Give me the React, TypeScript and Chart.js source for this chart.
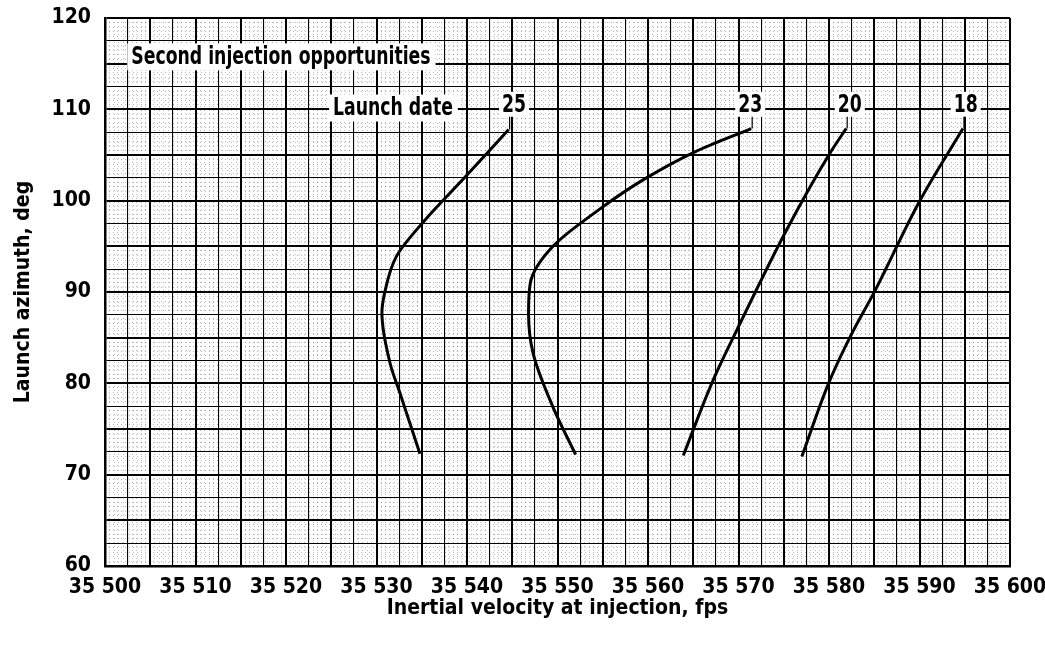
import React, { useEffect, useRef } from "react";
import { Chart, registerables } from "chart.js";

Chart.register(...registerables);

// ---- Data ----
const x25 = [35534.8, 35532.6, 35531.5, 35530.6, 35530.9, 35532.2, 35535.2, 35540.0, 35544.6];
const y25 = [72.3, 78.9, 82.2, 87.7, 89.9, 93.9, 97.7, 102.8, 107.8];

const x23 = [35552.0, 35549.5, 35547.3, 35546.8, 35547.0, 35549.5, 35554.7, 35559.5, 35565.3, 35571.4];
const y23 = [72.2, 77.4, 83.3, 87.7, 91.0, 95.0, 99.1, 102.3, 105.4, 107.9];

const x20 = [35563.9, 35567.2, 35569.8, 35575.5, 35580.1, 35581.9];
const y20 = [72.1, 80.35, 85.8, 97.15, 105.2, 107.9];

const x18 = [35577.0, 35580.1, 35582.7, 35584.9, 35590.1, 35594.8];
const y18 = [72.0, 80.35, 85.8, 89.8, 100.1, 107.9];

const seriesNames = ["25", "23", "20", "18"];
const seriesX = [x25, x23, x20, x18];
const seriesY = [y25, y23, y20, y18];

// Launch-date labels (data coordinates)
const dateLabelX = [35545.2, 35571.3, 35582.3, 35595.1];
const dateLabelY = [110.5, 110.5, 110.5, 110.5];

// Other text annotations (left edge, centre line)
const noteTexts = ["Second injection opportunities", "Launch date"];
const noteX = [35502.9, 35525.2];
const noteY = [115.8, 110.2];

const xMin = 35500;
const xMax = 35600;
const yMin = 60;
const yMax = 120;
const xTickLabels = ["35 500", "35 510", "35 520", "35 530", "35 540", "35 550", "35 560", "35 570", "35 580", "35 590", "35 600"];
const yTickLabels = ["60", "70", "80", "90", "100", "110", "120"];

const xTitle = "Inertial velocity at injection, fps";
const yTitle = "Launch azimuth, deg";

const FONT = "'DejaVu Sans Condensed', 'DejaVu Sans', sans-serif";
const SQUEEZE = 0.8;

const labelPlugin = {
  id: "textLabels",
  afterDatasetsDraw(chart: any) {
    const { ctx, scales } = chart;
    const xs = scales.x;
    const ys = scales.y;
    ctx.save();
    ctx.font = `bold 24px ${FONT}`;
    ctx.textBaseline = "middle";
    ctx.textAlign = "left";
    noteTexts.forEach((t, i) => {
      const px = xs.getPixelForValue(noteX[i]);
      const py = ys.getPixelForValue(noteY[i]);
      const w = ctx.measureText(t).width * SQUEEZE;
      ctx.fillStyle = "#fff";
      ctx.fillRect(px - 4, py - 13, w + 9, 27);
      ctx.save();
      ctx.translate(px, py + 1);
      ctx.scale(SQUEEZE, 1);
      ctx.fillStyle = "#000";
      ctx.fillText(t, 0, 0);
      ctx.restore();
    });
    seriesNames.forEach((t, i) => {
      const px = xs.getPixelForValue(dateLabelX[i]);
      const py = ys.getPixelForValue(dateLabelY[i]);
      const w = ctx.measureText(t).width * SQUEEZE;
      const sx = seriesX[i];
      const sy = seriesY[i];
      const ex = xs.getPixelForValue(sx[sx.length - 1]);
      const ey = ys.getPixelForValue(sy[sy.length - 1]);
      ctx.fillStyle = "#fff";
      ctx.fillRect(px - w / 2 - 3, py - 13, w + 6, 25);
      ctx.strokeStyle = "#000";
      ctx.lineWidth = 1.2;
      ctx.beginPath();
      ctx.moveTo(ex + 1, py + 12);
      ctx.lineTo(ex + 1, ey);
      ctx.stroke();
      ctx.save();
      ctx.translate(px - w / 2, py + 1);
      ctx.scale(SQUEEZE, 1);
      ctx.fillStyle = "#000";
      ctx.fillText(t, 0, 0);
      ctx.restore();
    });
    ctx.restore();
  },
};

const zeroPad = (s: any) => {
  s.paddingTop = 0;
  s.paddingBottom = 0;
  s.paddingLeft = 0;
  s.paddingRight = 0;
};

export default function App() {
  const ref = useRef<HTMLCanvasElement | null>(null);

  useEffect(() => {
    if (!ref.current) return;
    const datasets = seriesNames.map((name, i) => ({
      label: name,
      data: seriesX[i].map((x, j) => ({ x, y: seriesY[i][j] })),
      borderColor: "#000",
      borderWidth: 3,
      pointRadius: 0,
      cubicInterpolationMode: "monotone",
      indexAxis: "y",
      fill: false,
      xAxisID: "x",
      yAxisID: "y",
    }));

    const majorWidth = (ctx: any) => {
      const v = ctx.tick ? ctx.tick.value : 0;
      return Math.abs(v / 5 - Math.round(v / 5)) < 1e-6 ? 2 : 1.1;
    };

    const chart = new Chart(ref.current, {
      type: "line",
      data: { datasets },
      plugins: [labelPlugin],
      options: {
        responsive: false,
        animation: false,
        layout: { padding: { left: 0, right: 35, top: 18, bottom: 0 } },
        plugins: { legend: { display: false }, tooltip: { enabled: false } },
        scales: {
          x: {
            type: "linear",
            position: "bottom",
            min: xMin,
            max: xMax,
            afterFit: (s: any) => { s.height = 83; zeroPad(s); },
            ticks: {
              stepSize: 2.5,
              autoSkip: false,
              maxRotation: 0,
              minRotation: 0,
              padding: 9,
              color: "#000",
              font: { family: FONT, size: 21, weight: "bold" },
              callback: (v: any) => {
                const k = Math.round((Number(v) - xMin) / 10);
                return Math.abs(Number(v) - (xMin + k * 10)) < 1e-6 ? xTickLabels[k] : "";
              },
            },
            grid: { color: "#000", lineWidth: majorWidth, drawTicks: false },
            border: { color: "#000", width: 2.5 },
            title: {
              display: true,
              text: xTitle,
              color: "#000",
              font: { family: FONT, size: 21, weight: "bold" },
              padding: { top: 0, bottom: 28 },
            },
          },
          y: {
            type: "linear",
            position: "left",
            min: yMin,
            max: yMax,
            afterFit: (s: any) => { s.width = 105; zeroPad(s); },
            ticks: {
              stepSize: 2.5,
              autoSkip: false,
              padding: 14,
              color: "#000",
              font: { family: FONT, size: 21, weight: "bold" },
              callback: (v: any) => {
                const k = Math.round((Number(v) - yMin) / 10);
                return Math.abs(Number(v) - (yMin + k * 10)) < 1e-6 ? yTickLabels[k] : "";
              },
            },
            grid: { color: "#000", lineWidth: majorWidth, drawTicks: false },
            border: { color: "#000", width: 2.5 },
            title: {
              display: true,
              text: yTitle,
              color: "#000",
              font: { family: FONT, size: 21, weight: "bold" },
              padding: { top: 11, bottom: 0 },
            },
          },
          xMinor: {
            type: "linear",
            position: "bottom",
            min: xMin,
            max: xMax,
            afterFit: (s: any) => { s.height = 0; zeroPad(s); },
            ticks: { display: false, stepSize: 0.5, autoSkip: false },
            grid: { color: "rgba(0,0,0,0.28)", lineWidth: 1, drawTicks: false, z: -1 },
            border: { display: false, dash: [1, 3] },
          },
          yMinor: {
            type: "linear",
            position: "left",
            min: yMin,
            max: yMax,
            afterFit: (s: any) => { s.width = 0; zeroPad(s); },
            ticks: { display: false, stepSize: 0.5, autoSkip: false },
            grid: { color: "rgba(0,0,0,0.28)", lineWidth: 1, drawTicks: false, z: -1 },
            border: { display: false, dash: [1, 3] },
          },
        },
      },
    } as any);
    return () => chart.destroy();
  }, []);

  return (
    <div style={{ position: "fixed", left: 0, top: 0, width: 1045, height: 649, background: "#fff" }}>
      <canvas ref={ref} width={1045} height={649} style={{ display: "block" }} />
    </div>
  );
}
